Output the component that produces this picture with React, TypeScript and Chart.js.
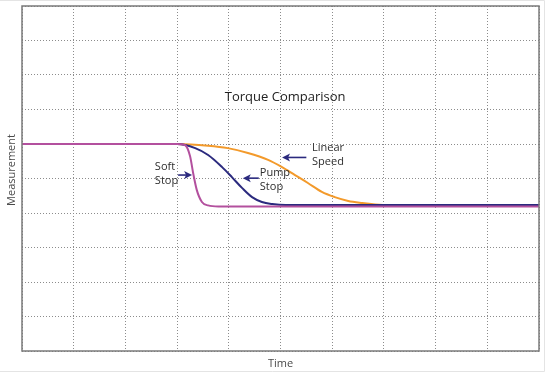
import React, { useEffect, useRef } from "react";
import { Chart, registerables } from "chart.js";

Chart.register(...registerables);

// Axis range (grid lines every unit)
const xTickValues = [0, 1, 2, 3, 4, 5, 6, 7, 8, 9, 10];
const yTickValues = [0, 1, 2, 3, 4, 5, 6, 7, 8, 9, 10];

// Series: Soft Stop
const softStopTime = [0, 3.0, 3.15, 3.25, 3.31, 3.38, 3.48, 3.6, 3.8, 10];
const softStopValue = [6.0, 6.0, 5.97, 5.65, 5.16, 4.67, 4.32, 4.22, 4.19, 4.19];

// Series: Pump Stop
const pumpStopTime = [0, 3.0, 3.35, 3.6, 3.87, 4.06, 4.26, 4.45, 4.64, 4.84, 5.1, 10];
const pumpStopValue = [6.0, 6.0, 5.88, 5.68, 5.33, 5.04, 4.72, 4.46, 4.32, 4.26, 4.23, 4.23];

// Series: Linear Speed
const linearTime = [0, 3.0, 3.6, 3.98, 4.37, 4.76, 5.03, 5.28, 5.53, 5.8, 6.05, 6.31, 6.58, 6.83, 7.1, 10];
const linearValue = [6.0, 6.0, 5.95, 5.88, 5.74, 5.54, 5.33, 5.1, 4.87, 4.61, 4.46, 4.35, 4.29, 4.25, 4.23, 4.23];

// Texts
const chartTitle = "Torque Comparison";
const xAxisTitle = "Time";
const yAxisTitle = "Measurement";

// Callout labels (lines) and their anchors in data units
const calloutLines = [["Soft", "Stop"], ["Pump", "Stop"], ["Linear", "Speed"]];
const calloutTextX = [2.57, 4.6, 5.61];
const calloutTextY = [5.33, 5.16, 5.88];
const calloutArrowY = [5.1, 5.01, 5.61];
const calloutArrowTail = [3.02, 4.58, 5.5];
const calloutArrowHead = [3.29, 4.27, 5.03];

const toPoints = (xs: number[], ys: number[]) => xs.map((x, i) => ({ x, y: ys[i] }));

const overlayPlugin = {
  id: "overlay",
  beforeDraw(chart: any) {
    const { ctx, width, height } = chart;
    ctx.save();
    ctx.fillStyle = "#ffffff";
    ctx.fillRect(0, 0, width, height);
    ctx.restore();
  },
  afterDatasetsDraw(chart: any) {
    const { ctx, chartArea, scales, height } = chart;
    const xs = scales.x;
    const ys = scales.y;
    ctx.save();
    // plot box
    ctx.strokeStyle = "#7a7a7a";
    ctx.lineWidth = 1.5;
    ctx.setLineDash([]);
    ctx.strokeRect(chartArea.left, chartArea.top, chartArea.right - chartArea.left, chartArea.bottom - chartArea.top);

    // faint outer frame
    ctx.strokeStyle = "#e4e4e4";
    ctx.lineWidth = 1;
    ctx.beginPath();
    ctx.moveTo(0, 0.5);
    ctx.lineTo(544.5, 0.5);
    ctx.lineTo(544.5, height - 1.5);
    ctx.lineTo(0, height - 1.5);
    ctx.stroke();

    // title
    ctx.fillStyle = "#222222";
    ctx.font = '13px "Open Sans"';
    ctx.textAlign = "center";
    ctx.textBaseline = "middle";
    ctx.fillText(chartTitle, xs.getPixelForValue(5.09), ys.getPixelForValue(7.36));

    // axis titles
    ctx.fillStyle = "#4a4a4a";
    ctx.font = '11px "Open Sans"';
    ctx.fillText(xAxisTitle, (chartArea.left + chartArea.right) / 2, height - 9);
    ctx.save();
    ctx.translate(12, 170);
    ctx.rotate(-Math.PI / 2);
    ctx.fillText(yAxisTitle, 0, 0);
    ctx.restore();

    // callouts
    ctx.font = '11px "Open Sans"';
    ctx.textAlign = "left";
    calloutLines.forEach((lines, i) => {
      const tx = xs.getPixelForValue(calloutTextX[i]);
      const ty = ys.getPixelForValue(calloutTextY[i]);
      ctx.fillStyle = "#2e2e2e";
      lines.forEach((ln, j) => ctx.fillText(ln, tx, ty + j * 14));
      const ay = ys.getPixelForValue(calloutArrowY[i]);
      const x0 = xs.getPixelForValue(calloutArrowTail[i]);
      const x1 = xs.getPixelForValue(calloutArrowHead[i]);
      const dir = Math.sign(x1 - x0);
      ctx.strokeStyle = "#2b2a7e";
      ctx.fillStyle = "#2b2a7e";
      ctx.lineWidth = 1.6;
      ctx.beginPath();
      ctx.moveTo(x0, ay);
      ctx.lineTo(x1 - dir * 5, ay);
      ctx.stroke();
      ctx.beginPath();
      ctx.moveTo(x1, ay);
      ctx.lineTo(x1 - dir * 8, ay - 4);
      ctx.lineTo(x1 - dir * 6, ay);
      ctx.lineTo(x1 - dir * 8, ay + 4);
      ctx.closePath();
      ctx.fill();
    });
    ctx.restore();
  },
};

export default function App() {
  const canvasRef = useRef<HTMLCanvasElement | null>(null);

  useEffect(() => {
    if (!canvasRef.current) return;
    const gridOpts = {
      color: "#8c8c8c",
      lineWidth: 1,
      drawTicks: false,
    };
    const chart = new Chart(canvasRef.current, {
      type: "line",
      data: {
        datasets: [
          {
            label: "Soft Stop",
            data: toPoints(softStopTime, softStopValue),
            borderColor: "#b3509e",
            borderWidth: 2,
            pointRadius: 0,
            cubicInterpolationMode: "monotone",
            fill: false,
            order: 1,
          },
          {
            label: "Pump Stop",
            data: toPoints(pumpStopTime, pumpStopValue),
            borderColor: "#2b2a7e",
            borderWidth: 2,
            pointRadius: 0,
            cubicInterpolationMode: "monotone",
            fill: false,
            order: 2,
          },
          {
            label: "Linear Speed",
            data: toPoints(linearTime, linearValue),
            borderColor: "#f39a2b",
            borderWidth: 2,
            pointRadius: 0,
            cubicInterpolationMode: "monotone",
            fill: false,
            order: 3,
          },
        ],
      },
      options: {
        animation: false,
        responsive: false,
        maintainAspectRatio: false,
        layout: { padding: { left: 22, right: 11, top: 6, bottom: 22 } },
        plugins: {
          legend: { display: false },
          title: { display: false },
          tooltip: { enabled: false },
        },
        scales: {
          x: {
            type: "linear",
            min: 0,
            max: 10,
            afterBuildTicks: (axis: any) => {
              axis.ticks = xTickValues.map((v) => ({ value: v }));
            },
            ticks: { display: false },
            grid: gridOpts,
            border: { display: false, dash: [1, 2] },
            title: { display: false },
          },
          y: {
            type: "linear",
            min: 0,
            max: 10,
            afterBuildTicks: (axis: any) => {
              axis.ticks = yTickValues.map((v) => ({ value: v }));
            },
            ticks: { display: false },
            grid: gridOpts,
            border: { display: false, dash: [1, 2] },
            title: { display: false },
          },
        },
      },
      plugins: [overlayPlugin],
    } as any);
    return () => chart.destroy();
  }, []);

  return (
    <div style={{ position: "absolute", left: 0, top: 0, width: 550, height: 373 }}>
      <canvas ref={canvasRef} width={550} height={373} style={{ display: "block" }} />
    </div>
  );
}
